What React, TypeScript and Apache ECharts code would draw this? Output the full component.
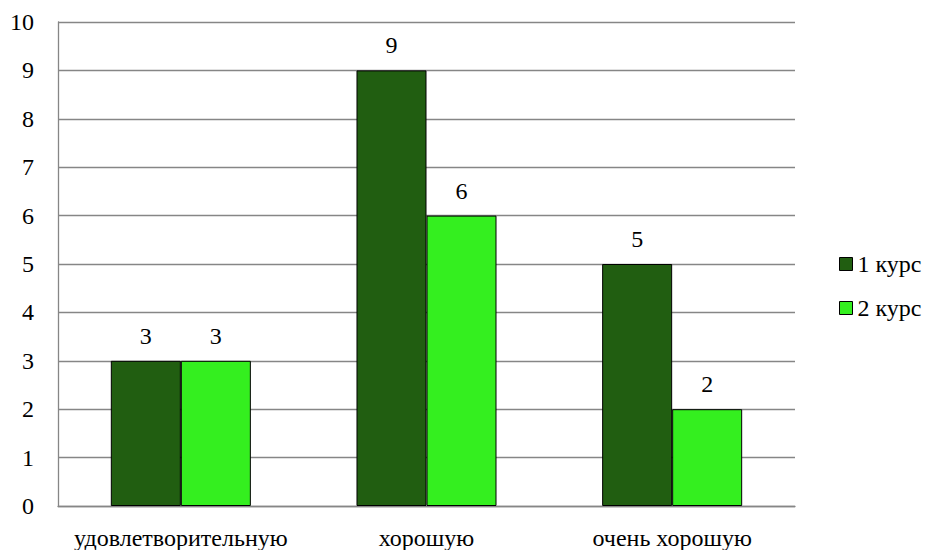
import React, { useEffect, useRef } from "react";
import * as echarts from "echarts";

const categories = ["удовлетворительную", "хорошую", "очень хорошую"];
const course1 = [3, 9, 5];
const course2 = [3, 6, 2];
const seriesNames = ["1 курс", "2 курс"];

const FONT = "serif";
const SIZE = 24;

export default function App() {
  const ref = useRef<HTMLDivElement>(null);
  useEffect(() => {
    const chart = echarts.init(ref.current!, null, { renderer: "svg" });
    chart.setOption({
      animation: false,
      grid: { left: 58, top: 22, right: 131, bottom: 44 },
      legend: {
        orient: "vertical",
        left: 834,
        top: 247,
        itemWidth: 13,
        itemHeight: 13,
        itemGap: 20,
        icon: "rect",
        itemStyle: { borderColor: "#000", borderWidth: 1 },
        textStyle: { fontSize: SIZE, color: "black", fontFamily: FONT },
        data: seriesNames,
      },
      xAxis: {
        type: "category",
        data: categories,
        axisLine: { lineStyle: { color: "#868686", width: 1.3 } },
        axisTick: { length: 0, lineStyle: { color: "rgba(0,0,0,0)" } },
        axisLabel: { fontSize: SIZE, color: "black", fontFamily: FONT, interval: 0, margin: 20 },
      },
      yAxis: {
        type: "value",
        min: 0,
        max: 10,
        interval: 1,
        axisLine: { show: true, lineStyle: { color: "#868686", width: 1.3 } },
        axisTick: { length: 0, lineStyle: { color: "rgba(0,0,0,0)" } },
        axisLabel: { fontSize: SIZE, color: "black", fontFamily: FONT, margin: 24 },
        splitLine: { lineStyle: { color: "#868686", width: 1.3 } },
      },
      series: [
        {
          name: seriesNames[0],
          type: "bar",
          data: course1,
          barGap: "0%",
          barCategoryGap: "43%",
          itemStyle: { color: "#215E11", borderColor: "#000000", borderWidth: 1 },
          label: { show: true, position: "top", distance: 13, fontSize: SIZE, color: "black", fontFamily: FONT },
        },
        {
          name: seriesNames[1],
          type: "bar",
          data: course2,
          barGap: "0%",
          barCategoryGap: "43%",
          itemStyle: { color: "#34EF1F", borderColor: "#000000", borderWidth: 1 },
          label: { show: true, position: "top", distance: 13, fontSize: SIZE, color: "black", fontFamily: FONT },
        },
      ],
    });
    return () => chart.dispose();
  }, []);
  return (
    <div
      ref={ref}
      style={{ position: "fixed", left: 0, top: 0, width: 926, height: 550, background: "#fff" }}
    />
  );
}
